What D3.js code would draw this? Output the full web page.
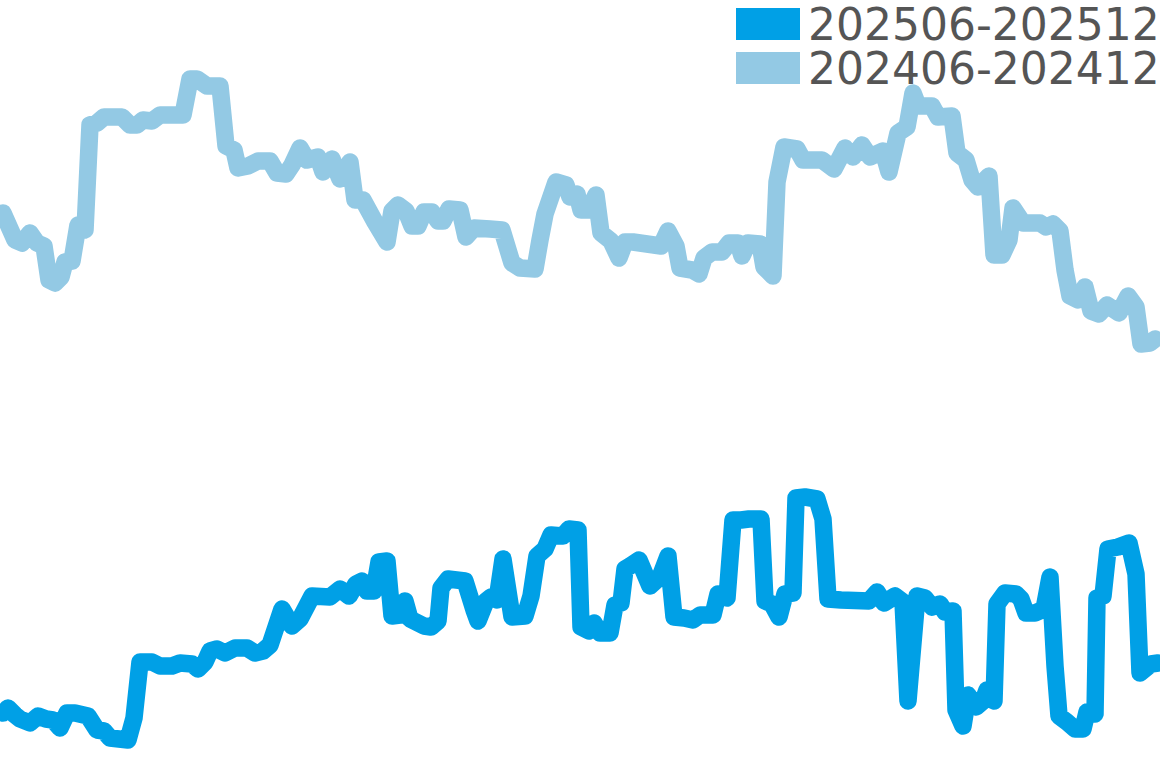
<!DOCTYPE html>
<html>
<head>
<meta charset="utf-8">
<script src="https://cdn.jsdelivr.net/npm/d3@7"></script>
<style>
  body { margin: 0; background: #fff; }
  svg { display: block; }
</style>
</head>
<body>
<div id="chart"></div>
<script>
const width = 1160;
const height = 768;

const seriesNames = ["202506-202512", "202406-202412"];
const seriesColors = ["#00a0e6", "#93c9e4"];

// 202406-202412 (day index, value)
const daysPrev = [0.6, 3, 4.4, 6, 7.4, 8.8, 9.8, 11, 12.2, 13, 14.4, 15.6, 17, 18, 19.4, 20.8, 24.4, 26, 27.4, 28.6,
  30.4, 32, 36.6, 38, 39.4, 41.4, 44, 45.2, 46.8, 47.6, 49.6, 51.6, 54, 55.4, 57.2, 58.4, 60, 61.4, 63.6, 64.6,
  66.4, 68, 70, 71, 72.6, 75, 77.4, 78.4, 79.6, 81.2, 82.4, 83.6, 84.8, 86.4, 87.6, 88.6, 89.8, 92, 93.2, 94.8,
  98, 100.4, 102.4, 104, 107, 108, 109, 111.2, 113.2, 114, 115.4, 116.2, 117.8, 119.2, 120.2, 122.2, 123.8, 125, 126.6, 132.2,
  133.6, 135.2, 136, 138.4, 139.8, 140.8, 142.4, 144.4, 145.8, 147.6, 148.4, 149.6, 152, 152.8, 154.6, 155.4, 156.8, 159.4, 160.6, 164.4,
  166.8, 169, 170.6, 172.4, 174, 176.6, 177.8, 179.6, 181.4, 182.6, 183.6, 186.4, 187.6, 190.4, 191.4, 193.2, 194.4, 195.6, 197.8, 198.8,
  200.4, 201.8, 202.6, 204.6, 208, 209.2, 210.6, 212, 213, 214, 215.6, 217, 218.2, 219.8, 221.4, 223.8, 225.6, 227.2, 228.2, 230, 231];
const valuesPrev = [55.5, 52.8, 52.5, 53.5, 52.5, 52.2, 48.8, 48.5, 49.1, 50.6, 50.7, 54.3, 53.8, 64.3, 64.5, 65.1, 65.1, 64.3, 64.3, 64.8,
  64.7, 65.3, 65.3, 68.9, 68.9, 68.2, 68.2, 62.2, 61.8, 60.0, 60.2, 60.7, 60.7, 59.5, 59.4, 60.3, 62.0, 60.8, 61.1, 59.6,
  60.9, 58.9, 60.6, 56.8, 56.8, 54.6, 52.6, 55.7, 56.3, 55.7, 54.2, 54.2, 55.6, 55.6, 54.7, 54.7, 55.9, 55.8, 53.1, 54.0,
  53.9, 53.8, 50.5, 50.0, 49.9, 52.8, 55.4, 58.6, 58.3, 57.1, 57.4, 55.8, 55.8, 57.3, 53.5, 52.7, 51.0, 52.6, 52.6, 52.2,
  53.7, 52.2, 50.0, 49.8, 49.4, 51.0, 51.6, 51.6, 52.5, 52.5, 51.2, 52.5, 52.4, 50.1, 49.2, 58.6, 62.1, 61.9, 60.8, 60.8,
  59.9, 62.0, 61.1, 62.3, 61.1, 61.7, 59.6, 63.5, 64.1, 67.5, 66.2, 66.2, 65.1, 65.2, 61.5, 60.8, 58.8, 58.1, 59.2, 51.3,
  51.3, 52.8, 56.0, 54.5, 54.5, 54.1, 54.4, 53.7, 49.8, 47.2, 46.8, 48.1, 45.7, 45.4, 46.3, 45.5, 47.2, 46.1, 42.4, 42.5, 42.9];

// 202506-202512 (day index, value)
const daysCur = [0.6, 1.6, 3, 4, 6, 7.6, 9.2, 10.6, 12, 13.4, 15, 17.6, 19.4, 20.8, 22, 25.6, 26.8, 28, 30.4, 32,
  34.4, 36, 38.4, 39.6, 41, 42, 43.4, 45, 47, 49.4, 51, 52.6, 54, 56.4, 58.4, 60, 62.4, 66, 68, 69.8,
  71.2, 72.4, 73.4, 74.8, 75.8, 77.4, 78.4, 80, 81, 82, 84.8, 86.2, 87.6, 88.2, 89.6, 93, 94.8, 95.6, 97.2, 98.2,
  99.4, 100.6, 102.4, 105, 106.2, 107.4, 109, 110.2, 112.6, 113.8, 115.6, 116.2, 117.8, 118.8, 120, 122, 123, 124.2, 125, 126,
  127.8, 130, 132, 133.6, 134.8, 136.8, 138.6, 140, 142.6, 143.6, 145.4, 146.6, 148.2, 149.8, 152.2, 153, 154.4, 155.8, 157, 158.6,
  159.2, 161, 163.4, 164.6, 165.6, 168.2, 173.8, 175.4, 176.8, 179, 180.6, 181.6, 183.4, 185, 186.4, 188, 189, 190.6, 191.2, 192.6,
  193.6, 195.2, 196.6, 197.4, 198.8, 199.4, 201, 203.2, 204.2, 205.2, 207, 208.8, 210, 211, 211.8, 213.4, 215, 216.6, 217.4, 219,
  219.4, 220.6, 221.6, 223.6, 225.8, 227.2, 228, 230.2, 231.6];
const valuesCur = [5.5, 6.0, 5.3, 4.9, 4.5, 5.2, 4.9, 4.8, 4.0, 5.5, 5.5, 5.2, 3.8, 3.7, 3.0, 2.8, 5.0, 10.6, 10.6, 10.2,
  10.2, 10.5, 10.4, 9.9, 10.6, 11.7, 11.9, 11.5, 12.0, 12.0, 11.5, 11.7, 12.3, 15.9, 14.2, 14.9, 17.2, 17.1, 17.9, 17.2,
  18.4, 18.7, 17.7, 17.7, 20.6, 20.7, 15.2, 15.3, 16.7, 14.9, 14.2, 14.1, 14.7, 18.0, 18.9, 18.7, 15.8, 14.7, 16.7, 17.1,
  16.8, 20.9, 15.1, 15.2, 17.2, 21.2, 21.9, 23.3, 23.2, 23.9, 23.8, 14.1, 13.7, 14.5, 13.5, 13.5, 16.3, 16.5, 19.9, 20.2,
  20.8, 18.2, 19.1, 21.2, 15.1, 15.0, 14.8, 15.3, 15.3, 17.4, 17.0, 24.8, 24.8, 24.9, 24.9, 16.7, 16.4, 15.1, 17.4, 17.5,
  27.0, 27.1, 26.9, 24.9, 16.9, 16.8, 16.7, 17.6, 16.5, 17.2, 16.6, 6.7, 17.2, 17.0, 16.1, 16.4, 15.6, 15.7, 5.8, 4.2,
  7.3, 6.1, 6.7, 7.8, 6.7, 16.4, 17.5, 17.4, 16.9, 15.5, 15.5, 15.9, 19.1, 10.2, 5.2, 4.6, 3.9, 3.9, 5.6, 5.4,
  17.0, 17.2, 21.9, 22.1, 22.5, 19.4, 9.5, 10.4, 10.5];

const svg = d3.select("#chart")
  .append("svg")
  .attr("width", width)
  .attr("height", height);

const x = d3.scaleLinear().domain([0, 232]).range([0, width]);
const y = d3.scaleLinear().domain([0, 76.8]).range([height, 0]);

const line = d3.line()
  .x(d => x(d[0]))
  .y(d => y(d[1]));

const series = [
  d3.zip(daysCur, valuesCur),
  d3.zip(daysPrev, valuesPrev)
];

// older period drawn first
[1, 0].forEach(i => {
  svg.append("path")
    .datum(series[i])
    .attr("d", line)
    .attr("fill", "none")
    .attr("stroke", seriesColors[i])
    .attr("stroke-width", 17.5)
    .attr("stroke-linejoin", "round")
    .attr("stroke-linecap", "round");
});

const legend = svg.append("g")
  .attr("transform", "translate(736, 8)");

const item = legend.selectAll("g")
  .data(seriesNames)
  .enter()
  .append("g")
  .attr("transform", (d, i) => `translate(0, ${i * 44})`);

item.append("rect")
  .attr("width", 64)
  .attr("height", 32)
  .attr("fill", (d, i) => seriesColors[i]);

item.append("text")
  .attr("x", 72)
  .attr("y", 32)
  .attr("font-family", "DejaVu Sans")
  .attr("font-size", 44)
  .attr("fill", "#555555")
  .text(d => d);
</script>
</body>
</html>
